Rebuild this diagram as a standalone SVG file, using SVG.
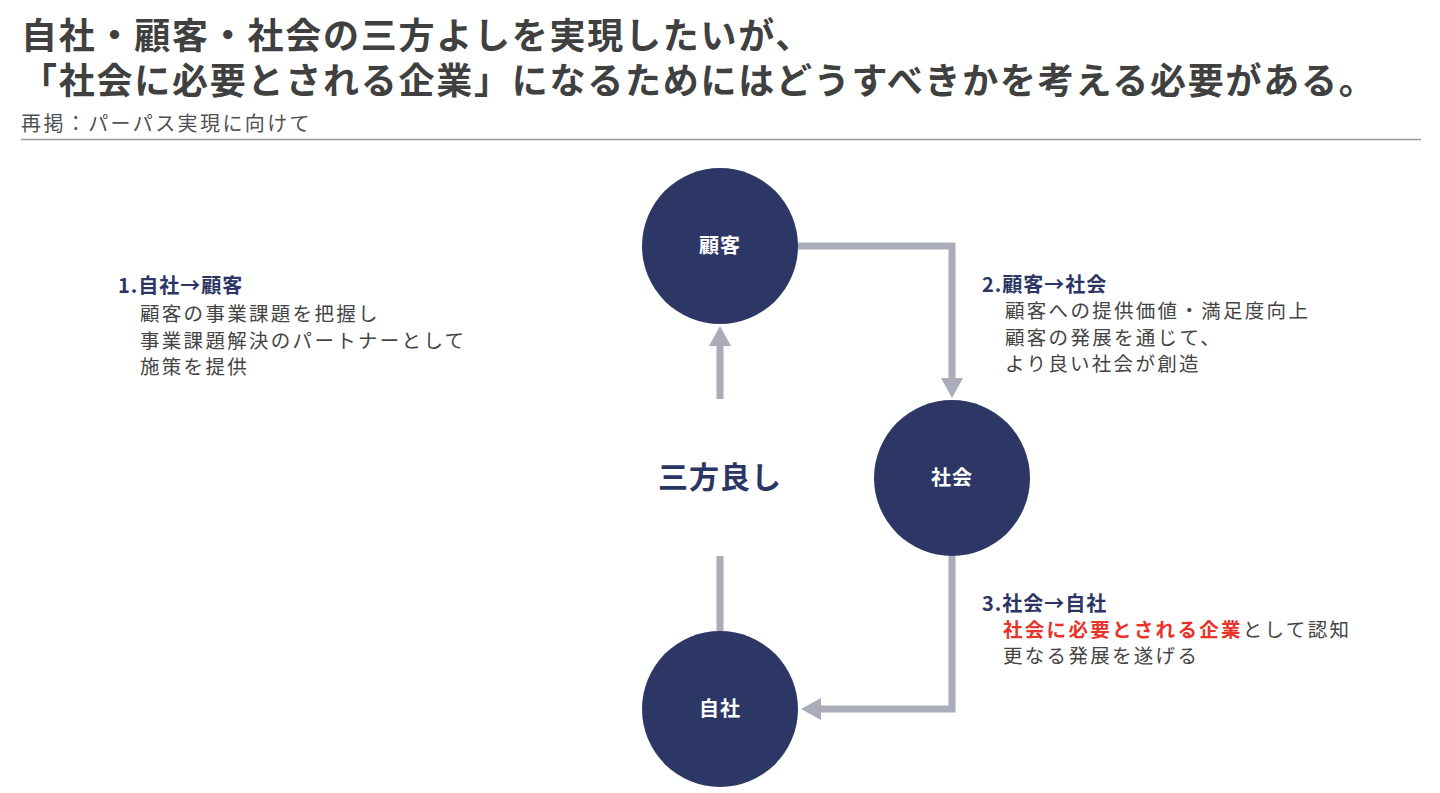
<svg xmlns="http://www.w3.org/2000/svg" width="1440" height="793" viewBox="0 0 1440 793">
<style>
.t{font-family:"Noto Sans CJK JP","Noto Sans CJK SC",sans-serif}
.title{font-size:36px;font-weight:700;fill:#404040;letter-spacing:1.75px}
.sub{font-size:20px;fill:#505050;letter-spacing:2.4px}
.head{font-size:20px;font-weight:700;fill:#2c3665;letter-spacing:1px}
.body{font-size:19.5px;fill:#444444;letter-spacing:2.3px}
.red{fill:#e8332a;font-weight:700}
.node{fill:#2d3765}
.nl{font-size:20px;font-weight:700;fill:#ffffff;letter-spacing:1px}
.conn{fill:none;stroke:#abacb9;stroke-width:7}
.big{font-size:30px;font-weight:700;fill:#2c3665;letter-spacing:1px}
</style>
<defs>
<marker id="ah" markerUnits="userSpaceOnUse" markerWidth="20" markerHeight="22" viewBox="0 0 20 22" refX="0" refY="11" orient="auto">
<path d="M0,0 L20,11 L0,22 z" fill="#abacb9"/>
</marker>
</defs>
<rect width="1440" height="793" fill="#ffffff"/>
<g id="header">
<text class="t title" x="21" y="49">自社・顧客・社会の三方よしを実現したいが、</text>
<text class="t title" x="21" y="94">「社会に必要とされる企業」になるためにはどうすべきかを考える必要がある。</text>
<text class="t sub" x="21" y="131">再掲：パーパス実現に向けて</text>
<line x1="21" y1="139.5" x2="1421" y2="139.5" stroke="#9a9a9a" stroke-width="1.5"/>
</g>
<g id="connectors">
<path class="conn" d="M798,246 H952 V378" marker-end="url(#ah)"/>
<path class="conn" d="M952,556 V709 H821" marker-end="url(#ah)"/>
<path class="conn" d="M720,399 V346" marker-end="url(#ah)"/>
<path class="conn" d="M720,631 V556"/>
</g>
<g id="node-kokyaku">
<circle class="node" cx="720" cy="246" r="78"/>
<text class="t nl" x="720" y="253" text-anchor="middle">顧客</text>
</g>
<g id="node-shakai">
<circle class="node" cx="952" cy="478" r="78"/>
<text class="t nl" x="952" y="485" text-anchor="middle">社会</text>
</g>
<g id="node-jisha">
<circle class="node" cx="720" cy="709" r="78"/>
<text class="t nl" x="720" y="716" text-anchor="middle">自社</text>
</g>
<g id="label-center">
<text class="t big" x="720" y="488" text-anchor="middle">三方良し</text>
</g>
<g id="label-1">
<text class="t head" x="118" y="293">1.自社→顧客</text>
<text class="t body" x="140" y="321">顧客の事業課題を把握し</text>
<text class="t body" x="140" y="348">事業課題解決のパートナーとして</text>
<text class="t body" x="140" y="374">施策を提供</text>
</g>
<g id="label-2">
<text class="t head" x="982" y="292">2.顧客→社会</text>
<text class="t body" x="1005" y="318">顧客への提供価値・満足度向上</text>
<text class="t body" x="1005" y="345">顧客の発展を通じて、</text>
<text class="t body" x="1005" y="371">より良い社会が創造</text>
</g>
<g id="label-3">
<text class="t head" x="982" y="611">3.社会→自社</text>
<text class="t body" x="1003" y="637"><tspan class="red">社会に必要とされる企業</tspan>として認知</text>
<text class="t body" x="1003" y="663">更なる発展を遂げる</text>
</g>
</svg>
